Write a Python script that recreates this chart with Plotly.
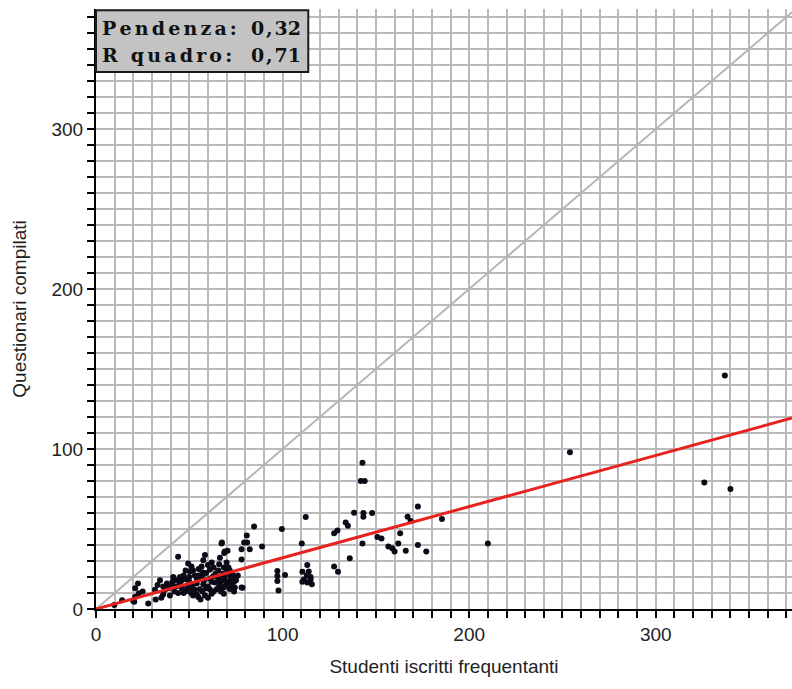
import plotly.graph_objects as go

# Data
studenti = [9.8, 14, 20.5, 21, 23, 21, 22.5, 25, 28, 20,
            31.6, 34.3, 37, 33, 36, 38, 39.6, 40.5, 41.4, 42, 44, 45, 43, 44, 46, 47, 35, 32,
            48.5, 48.5, 49.4, 50.3, 51.2, 52, 52, 54, 54.8, 55.7, 56.6, 56.6, 57.5, 57.5, 58.4, 58.4,
            59, 60, 61, 61, 62, 62.8, 63.7, 64.6, 53, 50, 55, 58, 60, 62, 64, 53, 57, 49, 51, 56, 60, 63,
            65.5, 65.5, 66.4, 67.3, 67.3, 68.5, 68.5, 68.5, 69, 69, 70, 70.8, 71.7, 71.7, 73.5, 74.4, 78,
            66, 68, 70, 72, 74, 73, 67, 71, 75, 72, 66, 67.5, 68.7, 70.5,
            39, 41, 43, 46, 47, 50, 52, 54, 55, 57, 59, 61, 63, 65, 67, 69, 71, 73, 75, 76,
            45, 48, 51, 54, 58, 62, 66, 70, 74, 36,
            78, 78.5, 78, 79.4, 81, 82.4, 80.8, 84.7, 89,
            97.2, 97.2, 97.2, 101.3, 97.8, 99.6, 110.3, 112.4, 110.6, 110.6, 113.2, 114, 111.4, 115,
            113.2, 115.7, 113, 115,
            127.6, 129.4, 127.6, 129.7, 136, 133.8, 135, 138.3, 142.8, 141.9, 144, 143.3, 143.3, 148,
            142.8, 150.8, 153, 156.7, 158.8, 160, 162, 163, 166, 167, 168.6, 172.5, 172.5, 177, 185.4,
            210, 254, 326, 337, 340]
questionari = [2.5, 5.5, 4.6, 7.7, 9.8, 13, 16, 11, 3.5, 5,
               12, 18, 12, 15, 9, 16, 8.5, 14.6, 20, 11, 10, 16, 18, 32.7, 13, 21, 7, 6,
               11.3, 18.5, 28.5, 23.5, 26.5, 15.5, 8.5, 9, 7.5, 12.3, 19.5, 26.5, 30.5, 15.5, 33.7, 8.5,
               22.5, 27.5, 24.5, 12.3, 9.5, 20.5, 16.5, 12.3, 21, 17, 25, 18, 14, 29, 22, 12, 11, 14, 10, 6, 7, 11,
               24, 17, 32, 41, 18, 26, 13.5, 9.5, 36, 21, 29, 17, 24, 12.5, 19, 13.5, 13.5,
               14, 22, 15, 20, 17, 22, 11, 26, 20, 16, 28, 41.5, 35, 36.4,
               13, 17, 14, 18, 10, 20, 24, 16, 21, 23, 13, 19, 26, 20, 15, 18, 23, 15, 18, 21,
               20, 24, 13, 19, 22, 17, 20, 25, 11, 14,
               31, 13.3, 37.3, 41.5, 41.5, 37.3, 46, 51.5, 39,
               23.7, 20.6, 17.5, 21.2, 11.5, 50, 41, 57.5, 23.3, 17, 27.5, 23.5, 18.5, 18.5,
               16.5, 15.5, 21, 20,
               47.3, 49, 26.5, 23.3, 31.7, 54, 52, 60.2, 91.4, 80, 80, 60, 57.7, 60,
               41, 45, 44, 39, 38, 36, 41, 47.3, 36.4, 57.7, 55, 64, 40, 36, 56.2,
               41, 98, 79, 146, 75]

pendenza = 0.32
r_quadro = 0.71
etichette = ["Pendenza:", "R quadro:"]
valori = [f"{pendenza:.2f}".replace(".", ","), f"{r_quadro:.2f}".replace(".", ",")]

x_max = 373
y_max = 375
line_x = [0, x_max]
diag_y = [v for v in line_x]
fit_y = [pendenza * v for v in line_x]

fig = go.Figure()
fig.add_trace(go.Scatter(x=line_x, y=diag_y, mode="lines",
                         line=dict(color="#b4b4b4", width=2), hoverinfo="skip"))
fig.add_trace(go.Scatter(x=studenti, y=questionari, mode="markers",
                         marker=dict(color="#0b0b18", size=6)))
fig.add_trace(go.Scatter(x=line_x, y=fit_y, mode="lines",
                         line=dict(color="#e8221e", width=3), hoverinfo="skip"))

axis_common = dict(
    showgrid=True, gridcolor="#bababa", gridwidth=1.5,
    dtick=100, tick0=0,
    ticks="outside", ticklen=7, tickwidth=1.5, tickcolor="#000",
    showline=True, linecolor="#000", linewidth=2,
    zeroline=False, automargin=False,
    tickfont=dict(family="Liberation Sans, Arial", size=19, color="#222"),
    minor=dict(dtick=10, showgrid=True, gridcolor="#bababa", gridwidth=1.5,
               ticks="outside", ticklen=7, tickwidth=1.5, tickcolor="#000"),
    mirror=False, fixedrange=True,
)

fig.update_layout(
    width=792, height=689,
    margin=dict(l=96, r=0, t=9, b=80),
    paper_bgcolor="white", plot_bgcolor="white",
    showlegend=False,
    xaxis=dict(range=[0, x_max],
               title=dict(text="Studenti iscritti frequentanti", standoff=16,
                          font=dict(family="Liberation Sans, Arial", size=19, color="#222")),
               **axis_common),
    yaxis=dict(range=[0, y_max],
               title=dict(text="Questionari compilati", standoff=20,
                          font=dict(family="Liberation Sans, Arial", size=19, color="#222")),
               **axis_common),
)

# Box with statistics
fig.add_shape(type="rect", xref="paper", yref="paper",
              x0=0.0, x1=0.305, y0=0.895, y1=0.998,
              fillcolor="#c3c3c3", line=dict(color="#1a1a1a", width=2), layer="above")
box_font = dict(family="DejaVu Serif, Liberation Serif", size=19, color="#111", weight="bold")
sp = "\u2006"
hair = "\u200a"
for i, (lab, val) in enumerate(zip(etichette, valori)):
    yy = 0.968 - i * 0.045
    fig.add_annotation(xref="paper", yref="paper", x=0.006, y=yy, xanchor="left", yanchor="middle",
                       text=sp.join(lab), showarrow=False, font=box_font)
    intero, dec = val.split(",")
    fig.add_annotation(xref="paper", yref="paper", x=0.297, y=yy, xanchor="right", yanchor="middle",
                       text=intero + hair + "," + hair + dec, showarrow=False, font=box_font)

fig.write_html("out.html",
               config={"displayModeBar": False},
               post_script="document.body.style.margin='0';"
                           "document.documentElement.style.overflow='hidden';")
